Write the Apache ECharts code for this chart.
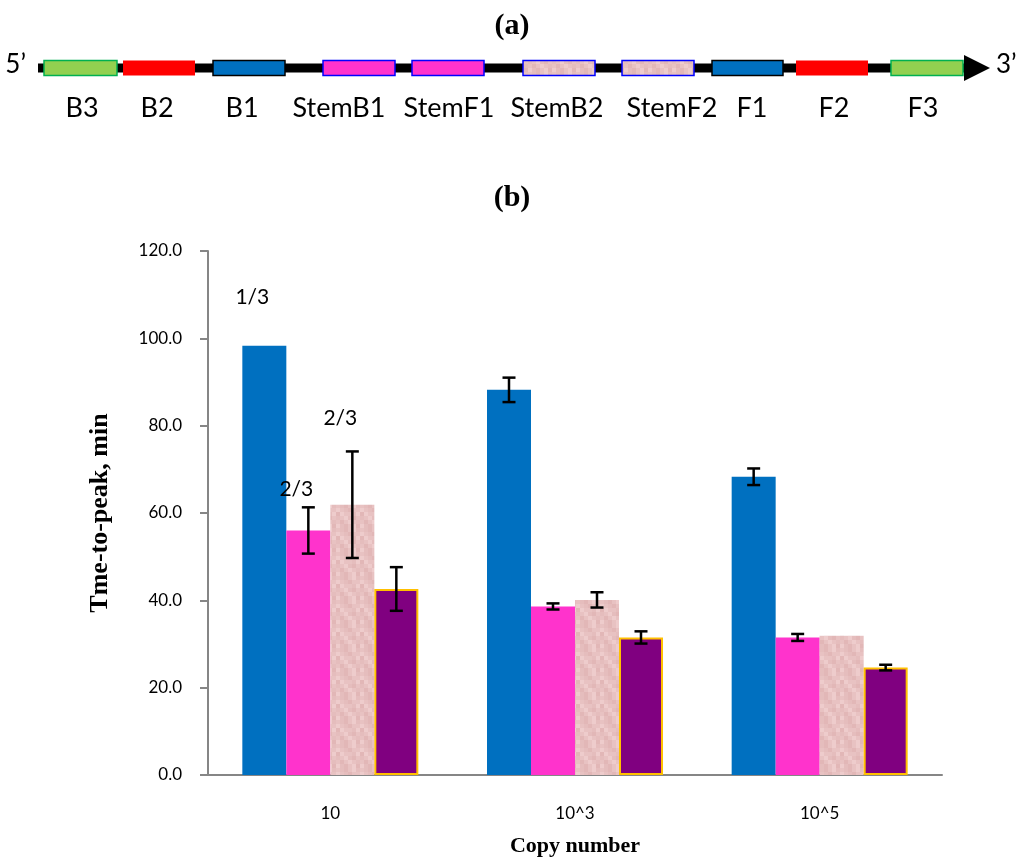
<!DOCTYPE html>
<html>
<head>
<meta charset="UTF-8">
<title>Time-to-peak</title>
<script src="https://cdn.jsdelivr.net/npm/echarts@6/dist/echarts.min.js"></script>
<style>
html, body { margin: 0; padding: 0; background: #fff; }
#main { width: 1024px; height: 867px; }
</style>
</head>
<body>
<div id="main"></div>
<script type="text/javascript">
// (a) primer map, positions along the template (0-1024 scale)
var segNames = ['B3', 'B2', 'B1', 'StemB1', 'StemF1', 'StemB2', 'StemF2', 'F1', 'F2', 'F3'];
var segStart = [44, 123, 213, 323, 412, 523, 622, 712, 796, 891];
var segEnd = [117, 195, 285, 395, 484, 595, 694, 783, 868, 963];
var segKind = [0, 1, 2, 3, 3, 4, 4, 2, 1, 0];
var labelAt = [82, 157, 242, 339, 449, 557, 672, 752, 834, 923];
var backbone = [38, 964, 990];
var endLabels = ['5\u2019', '3\u2019'];

// (b) time-to-peak
var categories = ['10', '10^3', '10^5'];
var blueVals = [98.3, 88.2, 68.3];
var blueErr = [null, 2.8, 1.9];
var pinkVals = [56.0, 38.6, 31.5];
var pinkErr = [5.3, 0.7, 0.8];
var beigeVals = [61.9, 40.1, 31.9];
var beigeErr = [12.2, 1.75, null];
var purpleVals = [42.6, 31.5, 24.6];
var purpleErr = [5.0, 1.4, 0.65];

var annotSeries = [0, 1, 2];
var annotCat = [0, 0, 0];
var annotY = [109.5, 65.4, 81.6];
var annotText = ['1/3', '2/3', '2/3'];

var BAR_W = 44;
var SANS = 'Lato';
var SERIF = 'Liberation Serif';

// mottled pink fill like the original texture
var beigeTile = (function () {
	var c = document.createElement('canvas');
	c.width = 24;
	c.height = 24;
	var g = c.getContext('2d');
	var shades = ['#E8C2C2', '#E2B7B7', '#EECCCC', '#E5BDBD'];
	var cells = [
		0, 3, 1, 0, 2, 3,
		2, 0, 3, 1, 0, 0,
		1, 2, 0, 0, 3, 2,
		3, 0, 2, 3, 1, 0,
		0, 1, 0, 2, 0, 3,
		2, 3, 1, 0, 2, 1
	];
	for (var i = 0; i < cells.length; i++) {
		g.fillStyle = shades[cells[i]];
		g.fillRect((i % 6) * 4, Math.floor(i / 6) * 4, 4, 4);
	}
	return c;
})();
var beigeFill = { image: beigeTile, repeat: 'repeat' };

var kindStyle = [
	{ fill: '#92D050', stroke: '#00B050', lineWidth: 1.5 },
	{ fill: '#FF0000', stroke: '#FF0000', lineWidth: 0 },
	{ fill: '#0070C0', stroke: '#000000', lineWidth: 1.5 },
	{ fill: '#FF33CC', stroke: '#0000FF', lineWidth: 1.5 },
	{ fill: beigeFill, stroke: '#0000FF', lineWidth: 1.5 }
];

var segData = [];
for (var i = 0; i < segNames.length; i++) {
	segData.push([segStart[i], segEnd[i], segKind[i], labelAt[i]]);
}

var errSets = [blueErr, pinkErr, beigeErr, purpleErr];
var valSets = [blueVals, pinkVals, beigeVals, purpleVals];
var errData = [];
for (var s = 0; s < errSets.length; s++) {
	for (var c = 0; c < categories.length; c++) {
		if (errSets[s][c] != null) {
			errData.push([c, valSets[s][c] - errSets[s][c], valSets[s][c] + errSets[s][c], s]);
		}
	}
}

var annotData = [];
for (var k = 0; k < annotText.length; k++) {
	annotData.push([annotCat[k], annotY[k], annotSeries[k]]);
}

var chart = echarts.init(document.getElementById('main'));

chart.setOption({
	backgroundColor: '#fff',
	animation: false,
	title: [ {
		text: '(a)',
		left: 'center',
		top: 6,
		textStyle: { fontFamily: SERIF, fontWeight: 'bold', fontSize: 30, color: '#000' }
	}, {
		text: '(b)',
		left: 'center',
		top: 178,
		textStyle: { fontFamily: SERIF, fontWeight: 'bold', fontSize: 30, color: '#000' }
	} ],
	grid: [ {
		left: 208,
		right: 82,
		top: 251,
		bottom: 92
	}, {
		left: 0,
		right: 0,
		top: 55,
		height: 26
	} ],
	xAxis: [ {
		type: 'category',
		gridIndex: 0,
		data: categories,
		name: 'Copy number',
		nameLocation: 'middle',
		nameGap: 60,
		nameTextStyle: { fontFamily: SERIF, fontWeight: 'bold', fontSize: 22, color: '#000' },
		axisLine: { lineStyle: { color: '#868686', width: 2 } },
		axisTick: { length: 7, lineStyle: { color: '#868686', width: 2 } },
		axisLabel: { margin: 30, fontFamily: SANS, fontSize: 17, color: '#000' }
	}, {
		type: 'value',
		gridIndex: 1,
		min: 0,
		max: 1024,
		show: false
	} ],
	yAxis: [ {
		type: 'value',
		gridIndex: 0,
		min: 0,
		max: 120,
		interval: 20,
		name: 'Tme-to-peak, min',
		nameLocation: 'middle',
		nameGap: 95,
		nameTextStyle: { fontFamily: SERIF, fontWeight: 'bold', fontSize: 26, color: '#000' },
		axisLine: { show: true, lineStyle: { color: '#868686', width: 2 } },
		axisTick: { show: true, length: 8, lineStyle: { color: '#868686', width: 2 } },
		splitLine: { show: false },
		axisLabel: {
			margin: 26,
			fontFamily: SANS,
			fontSize: 17,
			color: '#000',
			formatter: function (v) { return v.toFixed(1); }
		}
	}, {
		type: 'value',
		gridIndex: 1,
		min: -1,
		max: 1,
		show: false
	} ],
	series: [ {
		name: 'Set 1',
		type: 'bar',
		barWidth: BAR_W,
		barGap: '0%',
		itemStyle: { color: '#0070C0' },
		data: blueVals
	}, {
		name: 'Set 2',
		type: 'bar',
		barWidth: BAR_W,
		barGap: '0%',
		itemStyle: { color: '#FF33CC' },
		data: pinkVals
	}, {
		name: 'Set 3',
		type: 'bar',
		barWidth: BAR_W,
		barGap: '0%',
		itemStyle: { color: beigeFill },
		data: beigeVals
	}, {
		name: 'Set 4',
		type: 'bar',
		barWidth: BAR_W,
		barGap: '0%',
		itemStyle: { color: '#800080', borderColor: '#FFC000', borderWidth: 2 },
		data: purpleVals
	}, {
		name: 'error',
		type: 'custom',
		xAxisIndex: 0,
		yAxisIndex: 0,
		z: 10,
		data: errData,
		renderItem: function (params, api) {
			var lo = api.coord([api.value(0), api.value(1)]);
			var hi = api.coord([api.value(0), api.value(2)]);
			var x = lo[0] + (api.value(3) - 1.5) * BAR_W;
			var st = { stroke: '#000', lineWidth: 2.5 };
			return {
				type: 'group',
				children: [
					{ type: 'line', shape: { x1: x, y1: lo[1], x2: x, y2: hi[1] }, style: st },
					{ type: 'line', shape: { x1: x - 6.5, y1: lo[1], x2: x + 6.5, y2: lo[1] }, style: st },
					{ type: 'line', shape: { x1: x - 6.5, y1: hi[1], x2: x + 6.5, y2: hi[1] }, style: st }
				]
			};
		}
	}, {
		name: 'annotations',
		type: 'custom',
		xAxisIndex: 0,
		yAxisIndex: 0,
		z: 11,
		data: annotData,
		renderItem: function (params, api) {
			var p = api.coord([api.value(0), api.value(1)]);
			return {
				type: 'text',
				style: {
					x: p[0] + (api.value(2) - 1.5) * BAR_W - 12,
					y: p[1],
					text: annotText[params.dataIndex],
					fill: '#000',
					font: '21px ' + SANS,
					align: 'center',
					verticalAlign: 'middle'
				}
			};
		}
	}, {
		name: 'backbone',
		type: 'custom',
		xAxisIndex: 1,
		yAxisIndex: 1,
		z: 2,
		data: [ backbone ],
		renderItem: function (params, api) {
			var a = api.coord([api.value(0), 0]);
			var b = api.coord([api.value(1), 0]);
			var t = api.coord([api.value(2), 0]);
			return {
				type: 'group',
				children: [
					{ type: 'rect', shape: { x: a[0], y: a[1] - 4.5, width: b[0] - a[0] + 1, height: 9 }, style: { fill: '#000' } },
					{ type: 'polygon', shape: { points: [ [b[0], b[1] - 13], [t[0], t[1]], [b[0], b[1] + 13] ] }, style: { fill: '#000' } },
					{ type: 'text', style: { x: a[0] - 12, y: a[1] - 3, text: endLabels[0], fill: '#000', font: '26px ' + SANS, align: 'right', verticalAlign: 'middle' } },
					{ type: 'text', style: { x: t[0] + 6, y: t[1] - 3, text: endLabels[1], fill: '#000', font: '26px ' + SANS, align: 'left', verticalAlign: 'middle' } }
				]
			};
		}
	}, {
		name: 'primers',
		type: 'custom',
		xAxisIndex: 1,
		yAxisIndex: 1,
		z: 3,
		data: segData,
		renderItem: function (params, api) {
			var a = api.coord([api.value(0), 0]);
			var b = api.coord([api.value(1), 0]);
			var l = api.coord([api.value(3), 0]);
			var ks = kindStyle[api.value(2)];
			var style = { fill: ks.fill };
			if (ks.lineWidth > 0) {
				style.stroke = ks.stroke;
				style.lineWidth = ks.lineWidth;
			}
			return {
				type: 'group',
				children: [
					{ type: 'rect', shape: { x: a[0], y: a[1] - 7.5, width: b[0] - a[0], height: 15 }, style: style },
					{ type: 'text', style: { x: l[0], y: l[1] + 40, text: segNames[params.dataIndex], fill: '#000', font: '27px ' + SANS, align: 'center', verticalAlign: 'middle' } }
				]
			};
		}
	} ]
});
</script>
</body>
</html>
